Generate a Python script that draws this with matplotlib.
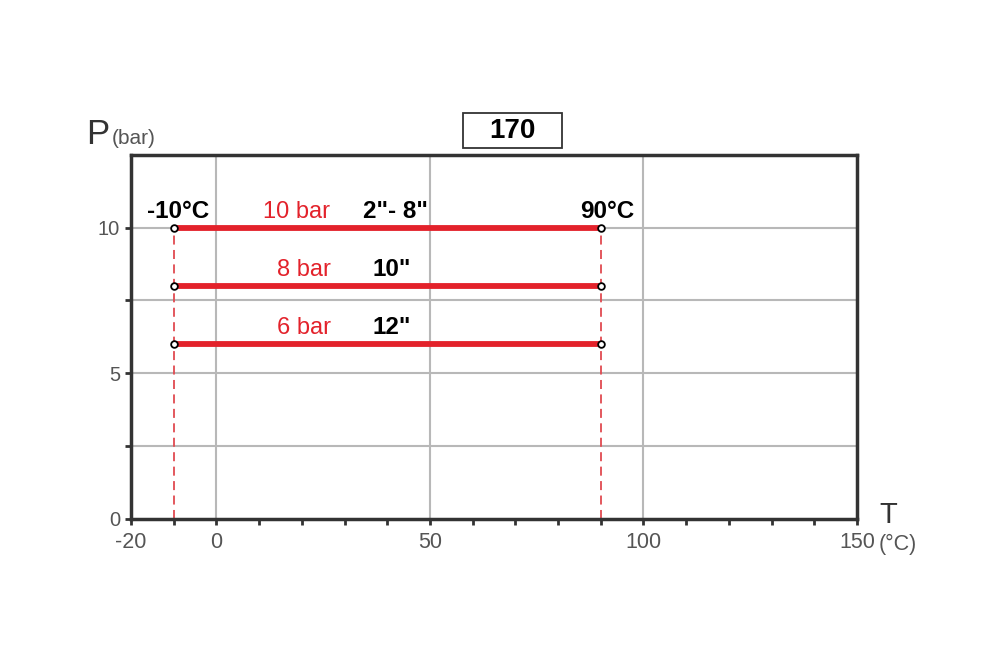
import matplotlib
matplotlib.use("Agg")
import matplotlib.pyplot as plt
from matplotlib.ticker import MultipleLocator, FixedLocator
from matplotlib.patches import Rectangle

plt.rcParams['font.family'] = ['Liberation Sans', 'DejaVu Sans']
plt.rcParams['axes.unicode_minus'] = False

# data
t_min, t_max = -10, 90
pressures = [10, 8, 6]
pressure_labels = ["10 bar", "8 bar", "6 bar"]
size_labels = ['2"- 8"', '10"', '12"']
title_text = "170"
x_ticks = [-20, 0, 50, 100, 150]
y_ticks = [0, 5, 10]
y_minor_ticks = [2.5, 7.5]

red = "#e3222b"
fig = plt.figure(figsize=(10, 6.67), dpi=100)
ax = fig.add_axes([0.131, 0.222, 0.726, 0.546])
ax.set_xlim(-20, 150)
ax.set_ylim(0, 12.5)

ax.xaxis.set_major_locator(FixedLocator(x_ticks))
ax.xaxis.set_minor_locator(MultipleLocator(10))
ax.yaxis.set_major_locator(FixedLocator(y_ticks))
ax.yaxis.set_minor_locator(FixedLocator(y_minor_ticks))
ax.tick_params(which='both', direction='out', color='#333333', width=2,
               labelcolor='#555555', length=4)
ax.tick_params(axis='x', which='major', labelsize=15.5, pad=5.5)
ax.tick_params(axis='y', which='major', labelsize=14.5, pad=4)

for sp in ax.spines.values():
    sp.set_color('#333333')
    sp.set_linewidth(2.5)

# grid
for gx in [0, 50, 100]:
    ax.axvline(gx, color='#b8b8b8', lw=1.5, zorder=0)
for gy in [2.5, 5, 7.5, 10]:
    ax.axhline(gy, color='#b8b8b8', lw=1.5, zorder=0)

# dashed verticals
for tx in (t_min, t_max):
    ax.plot([tx, tx], [0, max(pressures)], color='#e04a50', lw=1.3,
            dashes=(5, 3), zorder=2)

# pressure lines
for p, pl, sl in zip(pressures, pressure_labels, size_labels):
    ax.plot([t_min, t_max], [p, p], color=red, lw=4.2, zorder=3,
            solid_capstyle='butt')
    ax.plot([t_min, t_max], [p, p], linestyle='none', marker='o', ms=4.8,
            mfc='white', mec='black', mew=1.3, zorder=4)
    if p == 10:
        ax.text(18.8, p + 0.16, pl, color=red, fontsize=17, ha='center', va='bottom')
        ax.text(41.9, p + 0.16, sl, color='black', fontsize=17.5, fontweight='bold',
                ha='center', va='bottom')
    else:
        ax.text(20.6, p + 0.16, pl, color=red, fontsize=17, ha='center', va='bottom')
        ax.text(41.0, p + 0.16, sl, color='black', fontsize=17.5, fontweight='bold',
                ha='center', va='bottom')

ax.text(-8.9, 10.16, f"{t_min}°C", fontsize=17.5, fontweight='bold', ha='center', va='bottom')
ax.text(91.6, 10.16, f"{t_max}°C", fontsize=17.5, fontweight='bold', ha='center', va='bottom')

# title box
fig.patches.append(Rectangle((0.463, 0.778), 0.099, 0.0525, transform=fig.transFigure,
                             fc='white', ec='#333333', lw=1.3))
fig.text(0.5125, 0.804, title_text, fontsize=20, fontweight='bold', ha='center', va='center')

# axis labels
fig.text(0.086, 0.784, "P", fontsize=25, color='#333333', ha='left', va='baseline')
fig.text(0.112, 0.784, "(bar)", fontsize=15, color='#555555', ha='left', va='baseline')
fig.text(0.879, 0.216, "T", fontsize=21, color='#333333', ha='left', va='baseline')
fig.text(0.879, 0.175, "(°C)", fontsize=15.5, color='#555555', ha='left', va='baseline')

fig.savefig("out.png", dpi=100, facecolor='white')
